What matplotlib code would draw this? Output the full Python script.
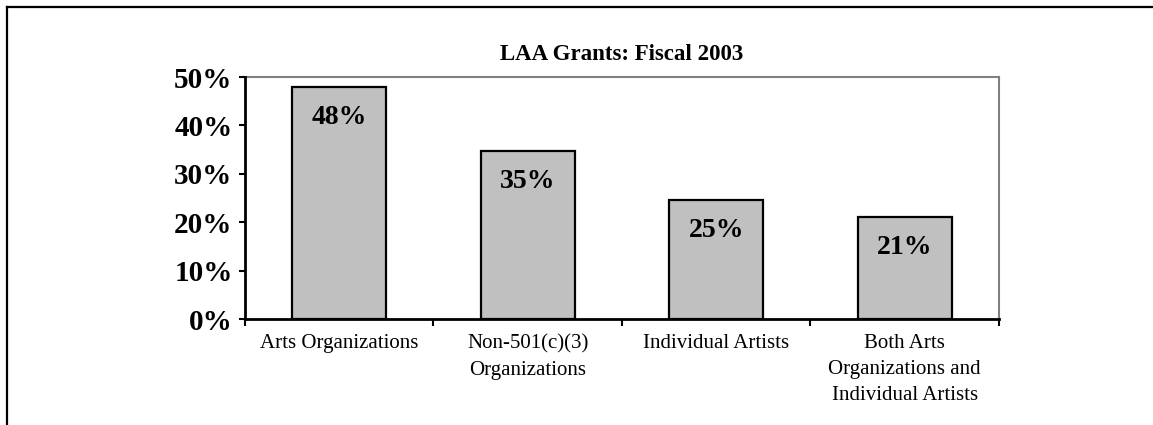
import matplotlib.pyplot as plt
from matplotlib.lines import Line2D
from matplotlib.ticker import FixedLocator, FuncFormatter

plt.rcParams['font.family'] = ['Liberation Serif', 'DejaVu Serif']

categories = ['Arts Organizations',
              'Non-501(c)(3)\nOrganizations',
              'Individual Artists',
              'Both Arts\nOrganizations and\nIndividual Artists']
shares = [48.0, 34.8, 24.6, 21.1]
yticks = [0, 10, 20, 30, 40, 50]

fig = plt.figure(figsize=(11.53, 4.25), dpi=100)
ax = fig.add_axes([0.2125, 0.2494, 0.6539, 0.5694])

x = [i + 0.5 for i in range(len(categories))]
bars = ax.bar(x, shares, width=0.5, color='#c0c0c0', edgecolor='black',
              linewidth=1.6, zorder=3)

# value labels sit just inside the top of each bar
for b, v in zip(bars, shares):
    ax.annotate(f'{v:.0f}%', (b.get_x() + b.get_width() / 2, b.get_height()),
                xytext=(0, -31), textcoords='offset pixels',
                ha='center', va='center', fontsize=20, fontweight='bold',
                zorder=4)

ax.set_xlim(0, len(categories))
ax.set_ylim(0, 50)

ax.set_yticks(yticks)
ax.yaxis.set_major_formatter(FuncFormatter(lambda v, p: f'{v:.0f}%'))
ax.tick_params(axis='y', direction='out', length=4, width=1.5, pad=5,
               labelsize=21)
for t in ax.get_yticklabels():
    t.set_fontweight('bold')

# category boundaries get tick marks, names go in between
ax.xaxis.set_major_locator(FixedLocator(range(len(categories) + 1)))
ax.xaxis.set_minor_locator(FixedLocator(x))
ax.set_xticklabels([], minor=False)
ax.set_xticklabels(categories, minor=True)
ax.tick_params(axis='x', which='major', direction='out', length=5, width=1.5)
ax.tick_params(axis='x', which='minor', length=0, pad=11, labelsize=15)
for t in ax.get_xticklabels(minor=True):
    t.set_linespacing(1.5)

for side in ['left', 'bottom']:
    ax.spines[side].set_color('black')
    ax.spines[side].set_linewidth(2)
for side in ['top', 'right']:
    ax.spines[side].set_color('#808080')
    ax.spines[side].set_linewidth(1.5)
    ax.spines[side].set_zorder(1)

fig.text(0.5395, 1 - 60 / 425, 'LAA Grants: Fiscal 2003', ha='center',
         va='baseline', fontsize=16.5, fontweight='bold')

# outer frame lines along the top and left
fig.add_artist(Line2D([7 / 1153, 1], [1 - 7 / 425, 1 - 7 / 425],
                      color='black', linewidth=1.6, transform=fig.transFigure))
fig.add_artist(Line2D([7 / 1153, 7 / 1153], [0, 1 - 7 / 425],
                      color='black', linewidth=1.6, transform=fig.transFigure))

fig.savefig('out.png', dpi=100)
